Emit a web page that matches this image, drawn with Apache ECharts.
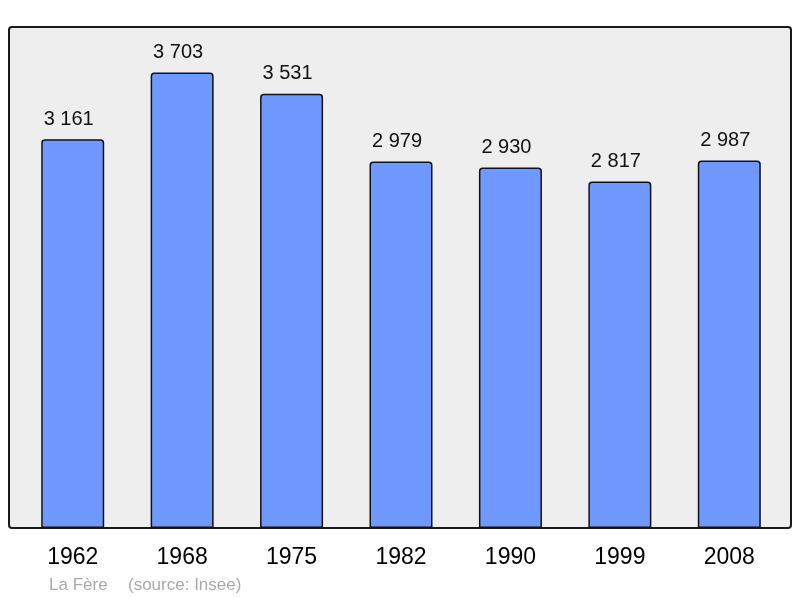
<!DOCTYPE html>
<html>
<head>
<meta charset="utf-8">
<script src="https://cdn.jsdelivr.net/npm/echarts@6/dist/echarts.min.js"></script>
<style>html,body{margin:0;padding:0;background:#fff;}#c{width:800px;height:598px;}</style>
</head>
<body>
<div id="c"></div>
<script>
var years = ['1962', '1968', '1975', '1982', '1990', '1999', '2008'];
var population = [3161, 3703, 3531, 2979, 2930, 2817, 2987];
var footerTitle = 'La Fère';
var footerSource = '(source: Insee)';

function fmt(v) {
  return String(v).replace(/\B(?=(\d{3})+(?!\d))/g, ' ');
}

var chart = echarts.init(document.getElementById('c'), null, {renderer: 'canvas'});
chart.setOption({
  animation: false,
  backgroundColor: '#ffffff',
  textStyle: {fontFamily: 'Liberation Sans, Arial, sans-serif'},
  graphic: [
    {type: 'rect', z: -10, shape: {x: 9, y: 27, width: 782, height: 501, r: 3},
     style: {fill: '#eeeeee', stroke: '#1a1a1a', lineWidth: 2}},
    {type: 'text', left: 49, top: 577, style: {text: footerTitle, fill: '#aaaaaa', font: '17px Liberation Sans, Arial, sans-serif'}},
    {type: 'text', left: 128, top: 577, style: {text: footerSource, fill: '#aaaaaa', font: '17px Liberation Sans, Arial, sans-serif'}}
  ],
  grid: {left: 18, right: 16, top: 27, bottom: 70},
  xAxis: {
    type: 'category',
    data: years,
    axisLine: {show: false},
    axisTick: {show: false},
    axisLabel: {color: '#000', fontSize: 23, margin: 18, fontFamily: 'Liberation Sans, Arial, sans-serif'}
  },
  yAxis: {
    type: 'value', min: 0, max: 4073, show: false, splitLine: {show: false}
  },
  series: [{
    type: 'bar',
    data: population,
    barWidth: 63,
    z: 5,
    itemStyle: {color: '#7099ff', borderColor: '#111', borderWidth: 1.5, borderRadius: [3, 3, 0, 0]},
    label: {show: true, position: 'top', distance: 10, offset: [-4, 0], color: '#111', fontSize: 20,
      fontFamily: 'Liberation Sans, Arial, sans-serif',
      formatter: function (p) { return fmt(p.value); }}
  }]
});
</script>
</body>
</html>
